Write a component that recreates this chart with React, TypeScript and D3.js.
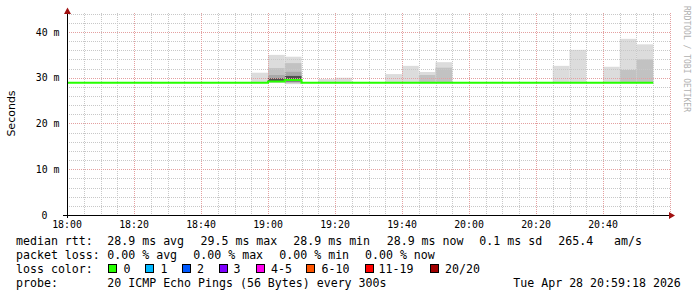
import React from "react";
import * as d3 from "d3";

// ---- data ----
const xTickLabels = ["18:00", "18:20", "18:40", "19:00", "19:20", "19:40", "20:00", "20:20", "20:40"];
const xTickMinutes = [0, 20, 40, 60, 80, 100, 120, 140, 160];
const yTickValues = [0, 10, 20, 30, 40];
const yTickLabels = ["0", "10 m", "20 m", "30 m", "40 m"];
const stepMinutes = 5;
// median rtt per 5-minute interval starting 18:00 (ms)
const medianRtt = [
  28.9, 28.9, 28.9, 28.9, 28.9, 28.9, 28.9, 28.9, 28.9, 28.9,
  28.9, 28.9, 29.2, 29.5, 28.9, 28.9, 28.9, 28.9, 28.9, 28.9,
  28.9, 28.9, 28.9, 28.9, 28.9, 28.9, 28.9, 28.9, 28.9, 28.9,
  28.9, 28.9, 28.9, 28.9, 28.9,
];
// intervals with visible smoke and their sorted ping quantiles (ms)
const smokeIntervals = [11, 12, 13, 15, 16, 19, 20, 21, 22, 29, 30, 32, 33, 34];
const smokePings = [
  [28.9, 28.9, 28.9, 28.9, 28.9, 28.9, 28.9, 28.9, 31.1],
  [28.9, 29.0, 29.1, 29.2, 29.3, 29.9, 30.6, 32.1, 35.0],
  [28.6, 28.8, 29.0, 29.2, 29.5, 30.4, 31.3, 33.2, 34.6],
  [28.9, 28.9, 28.9, 28.9, 28.9, 28.9, 28.9, 28.9, 29.7],
  [28.9, 28.9, 28.9, 28.9, 28.9, 28.9, 28.9, 28.9, 30.0],
  [28.9, 28.9, 28.9, 28.9, 28.9, 28.9, 28.9, 28.9, 30.8],
  [28.9, 28.9, 28.9, 28.9, 28.9, 28.9, 28.9, 28.9, 32.6],
  [28.9, 28.9, 28.9, 28.9, 28.9, 28.9, 28.9, 30.6, 31.25],
  [28.9, 28.9, 28.9, 28.9, 28.9, 28.9, 28.9, 32.2, 33.4],
  [28.9, 28.9, 28.9, 28.9, 28.9, 28.9, 28.9, 28.9, 32.6],
  [28.9, 28.9, 28.9, 28.9, 28.9, 28.9, 28.9, 28.9, 36.1],
  [28.9, 28.9, 28.9, 28.9, 28.9, 28.9, 28.9, 28.9, 32.4],
  [28.9, 28.9, 28.9, 28.9, 28.9, 28.9, 28.9, 31.7, 38.5],
  [28.9, 28.9, 28.9, 28.9, 28.9, 28.9, 28.9, 34.0, 37.3],
];
const lossLabels = ["0", "1", "2", "3", "4-5", "6-10", "11-19", "20/20"];
const lossColors = ["#26ff00", "#00b8ff", "#0059ff", "#7e00ff", "#ff00ee", "#ff5500", "#ff0000", "#a10000"];

// ---- layout ----
const W = 697, H = 297;
const X0 = 67, X1 = 670, Y0 = 215, Y1 = 13;
const MONO = "'DejaVu Sans Mono', monospace";

export default function App() {
  const x = d3.scaleLinear().domain([0, 180]).range([X0, X1]);
  const y = d3.scaleLinear().domain([0, (Y0 - Y1) / 4.575]).range([Y0, Y1]);

  const minorX = d3.range(0, 181, 5).filter((m) => m % 20 !== 0);
  const majorX = d3.range(0, 181, 20);
  const minorY = d3.range(0, 45, 2).filter((v) => v % 10 !== 0);
  const majorY = d3.range(10, 45, 10);

  const bandColors = ["#dcdcdc", "#c2c2c2", "#a8a8a8", "#505050"];

  const linePts: [number, number][] = medianRtt.map((v, i) => [i * stepMinutes, v]);
  linePts.push([medianRtt.length * stepMinutes, medianRtt[medianRtt.length - 1]]);
  const line = d3
    .line<[number, number]>()
    .x((d) => x(d[0]))
    .y((d) => y(d[1]))
    .curve(d3.curveStepAfter);

  const legendY = [245, 259, 273, 287];
  const fs = 11.6;

  const boxX = [108.5, 145.5, 182, 219.5, 256.5, 306.5, 365, 430];
  const boxTextX = [123.5, 160.5, 197, 233.5, 271, 321.5, 378.5, 445];

  return (
    <svg width={W} height={H} style={{ position: "absolute", left: 0, top: 0, background: "#fff" }}>
      <rect x={0} y={0} width={W} height={H} fill="#fff" />
      {/* smoke */}
      {smokeIntervals.map((iv, k) => {
        const p = smokePings[k];
        const xa = x(iv * stepMinutes);
        const xb = x((iv + 1) * stepMinutes);
        return (
          <g key={"s" + k}>
            {bandColors.map((c, j) => {
              const lo = p[j], hi = p[p.length - 1 - j];
              if (hi - lo <= 0) return null;
              return <rect key={j} x={xa} width={xb - xa} y={y(hi)} height={y(lo) - y(hi)} fill={c} />;
            })}
          </g>
        );
      })}
      {/* grid */}
      <g strokeDasharray="1,1" strokeWidth={1} shapeRendering="crispEdges">
        {minorY.map((v) => (
          <line key={"my" + v} x1={X0} x2={X1} y1={Math.round(y(v)) + 0.5} y2={Math.round(y(v)) + 0.5} stroke="#c8c8c8" />
        ))}
        {minorX.map((m) => (
          <line key={"mx" + m} x1={Math.round(x(m)) + 0.5} x2={Math.round(x(m)) + 0.5} y1={Y1} y2={Y0} stroke="#c8c8c8" />
        ))}
        {majorY.map((v) => (
          <line key={"My" + v} x1={X0} x2={X1} y1={Math.round(y(v)) + 0.5} y2={Math.round(y(v)) + 0.5} stroke="#e4a0a0" />
        ))}
        {majorX.map((m) => (
          <line key={"Mx" + m} x1={Math.round(x(m)) + 0.5} x2={Math.round(x(m)) + 0.5} y1={Y1} y2={Y0} stroke="#e4a0a0" />
        ))}
      </g>
      {/* median line */}
      <path d={line(linePts) || ""} fill="none" stroke={lossColors[0]} strokeWidth={2} />
      {/* axes */}
      <g shapeRendering="crispEdges">
        <line x1={63} x2={670} y1={Y0 + 0.5} y2={Y0 + 0.5} stroke="#000" />
        <line x1={X0 + 0.5} x2={X0 + 0.5} y1={218} y2={12} stroke="#000" />
      </g>
      <path d={`M${X0 - 3},${14} L${X0 + 0.5},${7.5} L${X0 + 4},${14} Z`} fill="#a01010" />
      <path d={`M${669},${212} L${675},${Y0 + 0.5} L${669},${219} Z`} fill="#a01010" />
      {/* axis labels */}
      <g fontFamily={MONO} fontSize={9.9} fill="#000">
        {yTickValues.map((v, i) => (
          <text key={"yt" + v} x={v === 0 ? 47.5 : 59.5} y={y(v) + 3.6} textAnchor="end">
            {yTickLabels[i]}
          </text>
        ))}
        {xTickMinutes.map((m, i) => (
          <text key={"xt" + m} x={x(m)} y={228} textAnchor="middle">
            {xTickLabels[i]}
          </text>
        ))}
      </g>
      <text
        transform={`translate(15,113.5) rotate(-90)`}
        textAnchor="middle"
        fontFamily="'DejaVu Sans', sans-serif"
        fontSize={11}
        fill="#000"
      >
        Seconds
      </text>
      <text
        transform={`translate(684,59) rotate(90)`}
        textAnchor="middle"
        fontFamily={MONO}
        fontSize={8}
        fill="#b0b0b0"
      >
        RRDTOOL / TOBI OETIKER
      </text>
      {/* legend */}
      <g fontFamily={MONO} fontSize={fs} fill="#000" style={{ whiteSpace: "pre" }}>
        <text x={16} y={legendY[0]}>median rtt:</text>
        <text x={107.3} y={legendY[0]}>28.9 ms avg</text>
        <text x={200.5} y={legendY[0]}>29.5 ms max</text>
        <text x={293.3} y={legendY[0]}>28.9 ms min</text>
        <text x={386.7} y={legendY[0]}>28.9 ms now</text>
        <text x={479.3} y={legendY[0]}>0.1 ms sd</text>
        <text x={558.3} y={legendY[0]}>265.4</text>
        <text x={614} y={legendY[0]}>am/s</text>

        <text x={16} y={legendY[1]}>packet loss:</text>
        <text x={107.3} y={legendY[1]}>0.00 % avg</text>
        <text x={193.3} y={legendY[1]}>0.00 % max</text>
        <text x={279.3} y={legendY[1]}>0.00 % min</text>
        <text x={365} y={legendY[1]}>0.00 % now</text>

        <text x={16} y={legendY[2]}>loss color:</text>
        {lossLabels.map((l, i) => (
          <g key={"lc" + i}>
            <rect x={boxX[i]} y={264.5} width={8} height={8} fill={lossColors[i]} stroke="#000" strokeWidth={1} shapeRendering="crispEdges" />
            <text x={boxTextX[i]} y={legendY[2]}>{l}</text>
          </g>
        ))}

        <text x={16} y={legendY[3]}>probe:</text>
        <text x={107.3} y={legendY[3]}>20 ICMP Echo Pings (56 Bytes) every 300s</text>
        <text x={513.3} y={legendY[3]}>Tue Apr 28 20:59:18 2026</text>
      </g>
    </svg>
  );
}
